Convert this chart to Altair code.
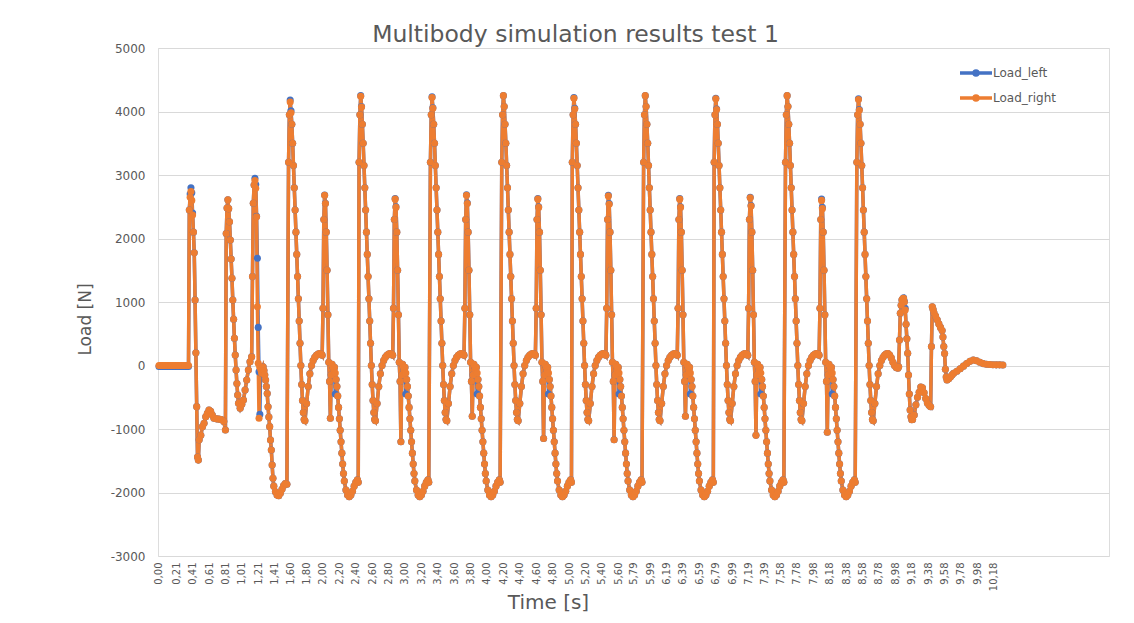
import altair as alt
import pandas as pd

FONT = "DejaVu Sans"
GREY = "#595959"

SERIES = ["Load_left", "Load_right"]
COLORS = ["#4472C4", "#ED7D31"]

X_TICKS = [0.00, 0.21, 0.41, 0.61, 0.81, 1.01, 1.21, 1.41, 1.60, 1.80, 2.00, 2.20, 2.40, 2.60,
           2.80, 3.00, 3.20, 3.40, 3.60, 3.80, 4.00, 4.20, 4.40, 4.60, 4.80, 5.00, 5.20, 5.40,
           5.60, 5.79, 5.99, 6.19, 6.39, 6.59, 6.79, 6.99, 7.19, 7.39, 7.58, 7.78, 7.98, 8.18,
           8.38, 8.58, 8.78, 8.98, 9.18, 9.38, 9.58, 9.78, 9.98, 10.18]
Y_TICKS = [-3000, -2000, -1000, 0, 1000, 2000, 3000, 4000, 5000]

# ---- start-up ----
T_START = [0.00, 0.02, 0.04, 0.06, 0.08, 0.10, 0.12, 0.14, 0.16, 0.18, 0.20, 0.22, 0.24, 0.26, 0.28, 0.30, 0.32, 0.34, 0.36,
           0.37, 0.38, 0.39, 0.40, 0.41, 0.42, 0.43, 0.44, 0.45, 0.46, 0.47, 0.48, 0.49,
           0.51, 0.53, 0.55, 0.57, 0.59, 0.61, 0.63, 0.65, 0.67,
           0.70, 0.73, 0.76, 0.79,
           0.81, 0.82, 0.83, 0.84, 0.85, 0.86, 0.87, 0.88, 0.89, 0.90, 0.91, 0.92, 0.93, 0.94, 0.95, 0.96, 0.97,
           0.99, 1.01, 1.03, 1.05, 1.07, 1.09, 1.11, 1.13,
           1.14, 1.15, 1.16, 1.17, 1.18, 1.19, 1.20, 1.21, 1.22, 1.23, 1.24, 1.25, 1.26, 1.27, 1.28, 1.29, 1.30, 1.31, 1.32, 1.33, 1.34, 1.35, 1.36, 1.37, 1.38, 1.39, 1.40,
           1.42, 1.44, 1.46, 1.48, 1.50, 1.52, 1.54, 1.56]
R_START = [0, 0, 0, 0, 0, 0, 0, 0, 0, 0, 0, 0, 0, 0, 0, 0, 0, 0, 0,
           2450, 2650, 2740, 2600, 2370, 2100, 1776, 1031, 202, -648, -1440, -1490, -1170,
           -1100, -963, -911, -806, -753, -700, -720, -780, -832,
           -840, -845, -850, -880,
           -1016, 2080, 2480, 2610, 2470, 2265, 1976, 1677, 1373, 1031, 727, 428, 165, -71, -284, -465, -596,
           -675, -610, -543, -386, -228, -71, 60, 139,
           1400, 2554, 2843, 2913, 2790, 2343, 926, 35, -832, -20, -60, -120, -60, -20, -80, -150, -230, -330, -440, -650, -810, -963, -1173, -1331, -1567, -1777, -1900,
           -1990, -2040, -2050, -2010, -1950, -1890, -1860, -1870]
L_START = [-15, -15, -15, -15, -15, -15, -15, -15, -15, -15, -15, -15, -15, -15, -15, -15, -15, -15, -15,
           2450, 2700, 2800, 2720, 2400, 2100, 1776, 1031, 202, -648, -1440, -1490, -1170,
           -1100, -963, -911, -806, -753, -700, -720, -780, -832,
           -840, -845, -850, -880,
           -1016, 2080, 2480, 2610, 2470, 2265, 1976, 1677, 1373, 1031, 727, 428, 165, -71, -284, -465, -596,
           -675, -610, -543, -386, -228, -71, 60, 139,
           1400, 2554, 2843, 2950, 2850, 2350, 1690, 600, -100, -770, -60, -120, -60, -20, -80, -150, -230, -330, -440, -650, -810, -963, -1173, -1331, -1567, -1777, -1900,
           -1990, -2040, -2050, -2010, -1950, -1890, -1860, -1870]

# ---- cycle 1 ----
T_C1 = [1.58, 1.59, 1.60, 1.61, 1.62, 1.63, 1.64, 1.65, 1.66, 1.67, 1.68, 1.69, 1.70, 1.71, 1.72, 1.73, 1.74, 1.75, 1.76, 1.77, 1.78,
        1.80, 1.82, 1.84, 1.86, 1.88, 1.90, 1.92, 1.94, 1.96, 1.98,
        1.99, 2.00, 2.01, 2.02, 2.03, 2.04, 2.05, 2.06, 2.07, 2.08, 2.09, 2.10, 2.11, 2.12, 2.13, 2.14, 2.15, 2.16, 2.17, 2.18, 2.19, 2.20, 2.21, 2.22, 2.23, 2.24, 2.25, 2.26,
        2.28, 2.30, 2.32, 2.34, 2.36, 2.38, 2.40, 2.42,
        2.43]
R_C1 = [3200, 3950, 4150, 3980, 3800, 3500, 3150, 2800, 2450, 2100, 1750, 1400, 1050, 700, 350, 0, -300, -550, -740, -850, -870,
        -600, -330, -130, 0, 80, 130, 160, 180, 190, 180,
        160, 900, 2300, 2680, 2550, 2100, 1500, 800, 50, -250, -830, -150, 20, -20, -80, -30, -120, -220, -330, -480, -660, -840, -1020, -1200, -1380, -1550, -1700, -1820,
        -1960, -2040, -2065, -2040, -1980, -1900, -1840, -1800,
        -1840]
L_C1 = [3200, 3950, 4180, 4010, 3800, 3500, 3150, 2800, 2450, 2100, 1750, 1400, 1050, 700, 350, 0, -300, -550, -740, -850, -870,
        -600, -330, -130, 0, 80, 130, 160, 180, 190, 180,
        160, 900, 2300, 2685, 2555, 2100, 1500, 800, 50, -250, -830, -150, 20, -20, -80, -30, -450, -220, -330, -480, -660, -840, -1020, -1200, -1380, -1550, -1700, -1820,
        -1960, -2040, -2065, -2040, -1980, -1900, -1840, -1800,
        -1840]

# ---- cycle 2 ----
T_C2 = [2.44, 2.45, 2.46, 2.47, 2.48, 2.49, 2.50, 2.51, 2.52, 2.53, 2.54, 2.55, 2.56, 2.57, 2.58, 2.59, 2.60, 2.61, 2.62, 2.63, 2.64,
        2.66, 2.68, 2.70, 2.72, 2.74, 2.76, 2.78, 2.80, 2.82, 2.84,
        2.85, 2.86, 2.87, 2.88, 2.89, 2.90, 2.91, 2.92, 2.93, 2.94, 2.95, 2.96, 2.97, 2.98, 2.99, 3.00, 3.01, 3.02, 3.03, 3.04, 3.05, 3.06, 3.07, 3.08, 3.09, 3.10, 3.11, 3.12,
        3.14, 3.16, 3.18, 3.20, 3.22, 3.24, 3.26, 3.28,
        3.29]
R_C2 = [3200, 3950, 4240, 4070, 3800, 3500, 3150, 2800, 2450, 2100, 1750, 1400, 1050, 700, 350, 0, -300, -550, -740, -850, -870,
        -600, -330, -130, 0, 80, 130, 160, 180, 190, 180,
        160, 900, 2300, 2620, 2490, 2100, 1500, 800, 50, -250, -1200, -150, 20, -20, -80, -30, -120, -220, -330, -480, -660, -840, -1020, -1200, -1380, -1550, -1700, -1820,
        -1960, -2040, -2065, -2040, -1980, -1900, -1840, -1800,
        -1840]
L_C2 = [3200, 3950, 4250, 4080, 3800, 3500, 3150, 2800, 2450, 2100, 1750, 1400, 1050, 700, 350, 0, -300, -550, -740, -850, -870,
        -600, -330, -130, 0, 80, 130, 160, 180, 190, 180,
        160, 900, 2300, 2630, 2500, 2100, 1500, 800, 50, -250, -1200, -150, 20, -20, -80, -30, -450, -220, -330, -480, -660, -840, -1020, -1200, -1380, -1550, -1700, -1820,
        -1960, -2040, -2065, -2040, -1980, -1900, -1840, -1800,
        -1840]

# ---- cycle 3 ----
T_C3 = [3.31, 3.32, 3.33, 3.34, 3.35, 3.36, 3.37, 3.38, 3.39, 3.40, 3.41, 3.42, 3.43, 3.44, 3.45, 3.46, 3.47, 3.48, 3.49, 3.50, 3.51,
        3.53, 3.55, 3.57, 3.59, 3.61, 3.63, 3.65, 3.67, 3.69, 3.71,
        3.72, 3.73, 3.74, 3.75, 3.76, 3.77, 3.78, 3.79, 3.80, 3.81, 3.82, 3.83, 3.84, 3.85, 3.86, 3.87, 3.88, 3.89, 3.90, 3.91, 3.92, 3.93, 3.94, 3.95, 3.96, 3.97, 3.98, 3.99,
        4.01, 4.03, 4.05, 4.07, 4.09, 4.11, 4.13, 4.15,
        4.16]
R_C3 = [3200, 3950, 4220, 4050, 3800, 3500, 3150, 2800, 2450, 2100, 1750, 1400, 1050, 700, 350, 0, -300, -550, -740, -850, -870,
        -600, -330, -130, 0, 80, 130, 160, 180, 190, 180,
        160, 900, 2300, 2680, 2550, 2100, 1500, 800, 50, -250, -800, -150, 20, -20, -80, -30, -120, -220, -330, -480, -660, -840, -1020, -1200, -1380, -1550, -1700, -1820,
        -1960, -2040, -2065, -2040, -1980, -1900, -1840, -1800,
        -1840]
L_C3 = [3200, 3950, 4230, 4060, 3800, 3500, 3150, 2800, 2450, 2100, 1750, 1400, 1050, 700, 350, 0, -300, -550, -740, -850, -870,
        -600, -330, -130, 0, 80, 130, 160, 180, 190, 180,
        160, 900, 2300, 2690, 2560, 2100, 1500, 800, 50, -250, -800, -150, 20, -20, -80, -30, -450, -220, -330, -480, -660, -840, -1020, -1200, -1380, -1550, -1700, -1820,
        -1960, -2040, -2065, -2040, -1980, -1900, -1840, -1800,
        -1840]

# ---- cycle 4 ----
T_C4 = [4.18, 4.19, 4.20, 4.21, 4.22, 4.23, 4.24, 4.25, 4.26, 4.27, 4.28, 4.29, 4.30, 4.31, 4.32, 4.33, 4.34, 4.35, 4.36, 4.37, 4.38,
        4.40, 4.42, 4.44, 4.46, 4.48, 4.50, 4.52, 4.54, 4.56, 4.58,
        4.59, 4.60, 4.61, 4.62, 4.63, 4.64, 4.65, 4.66, 4.67, 4.68, 4.69, 4.70, 4.71, 4.72, 4.73, 4.74, 4.75, 4.76, 4.77, 4.78, 4.79, 4.80, 4.81, 4.82, 4.83, 4.84, 4.85, 4.86,
        4.88, 4.90, 4.92, 4.94, 4.96, 4.98, 5.00, 5.02,
        5.03]
R_C4 = [3200, 3950, 4250, 4080, 3800, 3500, 3150, 2800, 2450, 2100, 1750, 1400, 1050, 700, 350, 0, -300, -550, -740, -850, -870,
        -600, -330, -130, 0, 80, 130, 160, 180, 190, 180,
        160, 900, 2300, 2620, 2490, 2100, 1500, 800, 50, -250, -1150, -150, 20, -20, -80, -30, -120, -220, -330, -480, -660, -840, -1020, -1200, -1380, -1550, -1700, -1820,
        -1960, -2040, -2065, -2040, -1980, -1900, -1840, -1800,
        -1840]
L_C4 = [3200, 3950, 4250, 4080, 3800, 3500, 3150, 2800, 2450, 2100, 1750, 1400, 1050, 700, 350, 0, -300, -550, -740, -850, -870,
        -600, -330, -130, 0, 80, 130, 160, 180, 190, 180,
        160, 900, 2300, 2630, 2500, 2100, 1500, 800, 50, -250, -1150, -150, 20, -20, -80, -30, -450, -220, -330, -480, -660, -840, -1020, -1200, -1380, -1550, -1700, -1820,
        -1960, -2040, -2065, -2040, -1980, -1900, -1840, -1800,
        -1840]

# ---- cycle 5 ----
T_C5 = [5.04, 5.05, 5.06, 5.07, 5.08, 5.09, 5.10, 5.11, 5.12, 5.13, 5.14, 5.15, 5.16, 5.17, 5.18, 5.19, 5.20, 5.21, 5.22, 5.23, 5.24,
        5.26, 5.28, 5.30, 5.32, 5.34, 5.36, 5.38, 5.40, 5.42, 5.44,
        5.45, 5.46, 5.47, 5.48, 5.49, 5.50, 5.51, 5.52, 5.53, 5.54, 5.55, 5.56, 5.57, 5.58, 5.59, 5.60, 5.61, 5.62, 5.63, 5.64, 5.65, 5.66, 5.67, 5.68, 5.69, 5.70, 5.71, 5.72,
        5.74, 5.76, 5.78, 5.80, 5.82, 5.84, 5.86, 5.88,
        5.89]
R_C5 = [3200, 3950, 4210, 4040, 3800, 3500, 3150, 2800, 2450, 2100, 1750, 1400, 1050, 700, 350, 0, -300, -550, -740, -850, -870,
        -600, -330, -130, 0, 80, 130, 160, 180, 190, 180,
        160, 900, 2300, 2670, 2540, 2100, 1500, 800, 50, -250, -1170, -150, 20, -20, -80, -30, -120, -220, -330, -480, -660, -840, -1020, -1200, -1380, -1550, -1700, -1820,
        -1960, -2040, -2065, -2040, -1980, -1900, -1840, -1800,
        -1840]
L_C5 = [3200, 3950, 4220, 4050, 3800, 3500, 3150, 2800, 2450, 2100, 1750, 1400, 1050, 700, 350, 0, -300, -550, -740, -850, -870,
        -600, -330, -130, 0, 80, 130, 160, 180, 190, 180,
        160, 900, 2300, 2680, 2550, 2100, 1500, 800, 50, -250, -1170, -150, 20, -20, -80, -30, -450, -220, -330, -480, -660, -840, -1020, -1200, -1380, -1550, -1700, -1820,
        -1960, -2040, -2065, -2040, -1980, -1900, -1840, -1800,
        -1840]

# ---- cycle 6 ----
T_C6 = [5.91, 5.92, 5.93, 5.94, 5.95, 5.96, 5.97, 5.98, 5.99, 6.00, 6.01, 6.02, 6.03, 6.04, 6.05, 6.06, 6.07, 6.08, 6.09, 6.10, 6.11,
        6.13, 6.15, 6.17, 6.19, 6.21, 6.23, 6.25, 6.27, 6.29, 6.31,
        6.32, 6.33, 6.34, 6.35, 6.36, 6.37, 6.38, 6.39, 6.40, 6.41, 6.42, 6.43, 6.44, 6.45, 6.46, 6.47, 6.48, 6.49, 6.50, 6.51, 6.52, 6.53, 6.54, 6.55, 6.56, 6.57, 6.58, 6.59,
        6.61, 6.63, 6.65, 6.67, 6.69, 6.71, 6.73, 6.75,
        6.76]
R_C6 = [3200, 3950, 4250, 4080, 3800, 3500, 3150, 2800, 2450, 2100, 1750, 1400, 1050, 700, 350, 0, -300, -550, -740, -850, -870,
        -600, -330, -130, 0, 80, 130, 160, 180, 190, 180,
        160, 900, 2300, 2620, 2490, 2100, 1500, 800, 50, -250, -800, -150, 20, -20, -80, -30, -120, -220, -330, -480, -660, -840, -1020, -1200, -1380, -1550, -1700, -1820,
        -1960, -2040, -2065, -2040, -1980, -1900, -1840, -1800,
        -1840]
L_C6 = [3200, 3950, 4250, 4080, 3800, 3500, 3150, 2800, 2450, 2100, 1750, 1400, 1050, 700, 350, 0, -300, -550, -740, -850, -870,
        -600, -330, -130, 0, 80, 130, 160, 180, 190, 180,
        160, 900, 2300, 2630, 2500, 2100, 1500, 800, 50, -250, -800, -150, 20, -20, -80, -30, -450, -220, -330, -480, -660, -840, -1020, -1200, -1380, -1550, -1700, -1820,
        -1960, -2040, -2065, -2040, -1980, -1900, -1840, -1800,
        -1840]

# ---- cycle 7 ----
T_C7 = [6.77, 6.78, 6.79, 6.80, 6.81, 6.82, 6.83, 6.84, 6.85, 6.86, 6.87, 6.88, 6.89, 6.90, 6.91, 6.92, 6.93, 6.94, 6.95, 6.96, 6.97,
        6.99, 7.01, 7.03, 7.05, 7.07, 7.09, 7.11, 7.13, 7.15, 7.17,
        7.18, 7.19, 7.20, 7.21, 7.22, 7.23, 7.24, 7.25, 7.26, 7.27, 7.28, 7.29, 7.30, 7.31, 7.32, 7.33, 7.34, 7.35, 7.36, 7.37, 7.38, 7.39, 7.40, 7.41, 7.42, 7.43, 7.44, 7.45,
        7.47, 7.49, 7.51, 7.53, 7.55, 7.57, 7.59, 7.61,
        7.62]
R_C7 = [3200, 3950, 4200, 4030, 3800, 3500, 3150, 2800, 2450, 2100, 1750, 1400, 1050, 700, 350, 0, -300, -550, -740, -850, -870,
        -600, -330, -130, 0, 80, 130, 160, 180, 190, 180,
        160, 900, 2300, 2640, 2510, 2100, 1500, 800, 50, -250, -1100, -150, 20, -20, -80, -30, -120, -220, -330, -480, -660, -840, -1020, -1200, -1380, -1550, -1700, -1820,
        -1960, -2040, -2065, -2040, -1980, -1900, -1840, -1800,
        -1840]
L_C7 = [3200, 3950, 4210, 4040, 3800, 3500, 3150, 2800, 2450, 2100, 1750, 1400, 1050, 700, 350, 0, -300, -550, -740, -850, -870,
        -600, -330, -130, 0, 80, 130, 160, 180, 190, 180,
        160, 900, 2300, 2650, 2520, 2100, 1500, 800, 50, -250, -1100, -150, 20, -20, -80, -30, -450, -220, -330, -480, -660, -840, -1020, -1200, -1380, -1550, -1700, -1820,
        -1960, -2040, -2065, -2040, -1980, -1900, -1840, -1800,
        -1840]

# ---- cycle 8 ----
T_C8 = [7.64, 7.65, 7.66, 7.67, 7.68, 7.69, 7.70, 7.71, 7.72, 7.73, 7.74, 7.75, 7.76, 7.77, 7.78, 7.79, 7.80, 7.81, 7.82, 7.83, 7.84,
        7.86, 7.88, 7.90, 7.92, 7.94, 7.96, 7.98, 8.00, 8.02, 8.04,
        8.05, 8.06, 8.07, 8.08, 8.09, 8.10, 8.11, 8.12, 8.13, 8.14, 8.15, 8.16, 8.17, 8.18, 8.19, 8.20, 8.21, 8.22, 8.23, 8.24, 8.25, 8.26, 8.27, 8.28, 8.29, 8.30, 8.31, 8.32,
        8.34, 8.36, 8.38, 8.40, 8.42, 8.44, 8.46, 8.48,
        8.49]
R_C8 = [3200, 3950, 4250, 4080, 3800, 3500, 3150, 2800, 2450, 2100, 1750, 1400, 1050, 700, 350, 0, -300, -550, -740, -850, -870,
        -600, -330, -130, 0, 80, 130, 160, 180, 190, 180,
        160, 900, 2300, 2600, 2470, 2100, 1500, 800, 50, -250, -1050, -150, 20, -20, -80, -30, -120, -220, -330, -480, -660, -840, -1020, -1200, -1380, -1550, -1700, -1820,
        -1960, -2040, -2065, -2040, -1980, -1900, -1840, -1800,
        -1840]
L_C8 = [3200, 3950, 4250, 4080, 3800, 3500, 3150, 2800, 2450, 2100, 1750, 1400, 1050, 700, 350, 0, -300, -550, -740, -850, -870,
        -600, -330, -130, 0, 80, 130, 160, 180, 190, 180,
        160, 900, 2300, 2620, 2490, 2100, 1500, 800, 50, -250, -1050, -150, 20, -20, -80, -30, -450, -220, -330, -480, -660, -840, -1020, -1200, -1380, -1550, -1700, -1820,
        -1960, -2040, -2065, -2040, -1980, -1900, -1840, -1800,
        -1840]

# ---- cycle 9 (last big peak) ----
T_C9 = [8.51, 8.52, 8.53, 8.54, 8.55, 8.56, 8.57, 8.58, 8.59, 8.60, 8.61, 8.62, 8.63, 8.64, 8.65, 8.66, 8.67, 8.68, 8.69, 8.70, 8.71]
R_C9 = [3200, 3950, 4190, 4020, 3800, 3500, 3150, 2800, 2450, 2100, 1750, 1400, 1050, 700, 350, 0, -300, -550, -740, -850, -870]
L_C9 = [3200, 3950, 4200, 4030, 3800, 3500, 3150, 2800, 2450, 2100, 1750, 1400, 1050, 700, 350, 0, -300, -550, -740, -850, -870]

# ---- run-out ----
T_TAIL = [8.73, 8.75, 8.77, 8.79, 8.81, 8.83, 8.85, 8.87, 8.89, 8.91, 8.93, 8.95, 8.97, 8.99, 9.01,
          9.02, 9.03, 9.04, 9.05, 9.06, 9.07, 9.08, 9.09, 9.10, 9.11, 9.12, 9.13, 9.14, 9.15, 9.16, 9.17, 9.18, 9.19,
          9.21, 9.23, 9.25, 9.27, 9.29, 9.31, 9.33, 9.35, 9.37, 9.39, 9.41,
          9.42, 9.43, 9.44, 9.45,
          9.47, 9.49, 9.51, 9.53, 9.55,
          9.56, 9.57, 9.58, 9.59, 9.60, 9.61,
          9.63, 9.65, 9.67, 9.69,
          9.73, 9.77, 9.81, 9.85, 9.89, 9.93, 9.97, 10.01, 10.05, 10.09, 10.13, 10.17, 10.21, 10.25, 10.29]
R_TAIL = [-600, -330, -130, 0, 80, 130, 165, 185, 190, 165, 120, 50, 0, -30, -44,
          -20, 400, 822, 950, 1031, 1050, 1058, 1000, 874, 650, 420, 192, -150, -450, -700, -806, -853, -850,
          -780, -620, -500, -420, -340, -350, -430, -520, -590, -625, -650,
          300, 926, 880, 830,
          780, 720, 655, 600, 550,
          450, 300, 190, -60, -180, -228,
          -210, -180, -150, -123,
          -90, -50, -10, 30, 65, 87, 75, 50, 30, 20, 15, 12, 10, 10, 8]
L_TAIL = [-600, -330, -130, 0, 80, 130, 165, 185, 190, 165, 120, 50, 0, -30, -44,
          -20, 400, 822, 950, 1031, 1050, 1065, 1010, 900, 650, 420, 192, -150, -450, -700, -806, -853, -850,
          -780, -620, -500, -420, -340, -350, -430, -520, -590, -625, -650,
          300, 926, 880, 830,
          780, 720, 655, 600, 550,
          450, 300, 190, -60, -180, -228,
          -210, -180, -150, -123,
          -90, -50, -10, 30, 65, 87, 75, 50, 30, 20, 15, 12, 10, 10, 8]

TIME = T_START + T_C1 + T_C2 + T_C3 + T_C4 + T_C5 + T_C6 + T_C7 + T_C8 + T_C9 + T_TAIL
LOAD_RIGHT = R_START + R_C1 + R_C2 + R_C3 + R_C4 + R_C5 + R_C6 + R_C7 + R_C8 + R_C9 + R_TAIL
LOAD_LEFT = L_START + L_C1 + L_C2 + L_C3 + L_C4 + L_C5 + L_C6 + L_C7 + L_C8 + L_C9 + L_TAIL
assert len(TIME) == len(LOAD_RIGHT) == len(LOAD_LEFT), (len(TIME), len(LOAD_RIGHT), len(LOAD_LEFT))

rows = [{"t": t, "load": v, "series": SERIES[0]} for t, v in zip(TIME, LOAD_LEFT)]
rows += [{"t": t, "load": v, "series": SERIES[1]} for t, v in zip(TIME, LOAD_RIGHT)]
df = pd.DataFrame(rows)

color_scale = alt.Scale(domain=SERIES, range=COLORS)
LEGEND_PATH = "M-1.6,0L1.6,0M0.2,0A0.2,0.2,0,1,1,-0.2,0A0.2,0.2,0,1,1,0.2,0"

x_enc = alt.X(
    "t:Q",
    scale=alt.Scale(domain=[-0.012, 11.585], nice=False, zero=False),
    axis=alt.Axis(
        values=X_TICKS,
        labelExpr="replace(format(datum.value, '.2f'), '.', ',')",
        labelAngle=270, labelFontSize=10, labelColor=GREY, labelFont=FONT,
        labelOverlap=False, labelFlush=False, labelPadding=6,
        grid=False, domain=False, ticks=False,
        title="Time [s]", titleFontSize=20, titleColor=GREY, titleFont=FONT,
        titleFontWeight="normal", titleX=390, titleY=52, titleAlign="center",
        titleBaseline="alphabetic",
    ),
)
y_enc = alt.Y(
    "load:Q",
    scale=alt.Scale(domain=[-3000, 5000], nice=False),
    axis=alt.Axis(
        values=Y_TICKS, labelExpr="datum.value + ''",
        labelFontSize=12, labelColor=GREY, labelFont=FONT, labelPadding=13,
        ticks=False, domain=False, grid=True, gridColor="#d9d9d9", gridWidth=1,
        title="Load [N]", titleFontSize=17, titleColor=GREY, titleFont=FONT,
        titleFontWeight="normal", titleAngle=270, titleX=-73, titleY=271,
        titleAlign="center", titleBaseline="middle",
    ),
)

lines = alt.Chart(df).mark_line(strokeWidth=3.5).encode(
    x=x_enc, y=y_enc,
    color=alt.Color(
        "series:N", scale=color_scale,
        legend=alt.Legend(
            title=None, orient="none", legendX=806, legendY=13,
            symbolType=LEGEND_PATH, symbolSize=400, symbolStrokeWidth=3.5,
            labelFontSize=12, labelColor=GREY, labelFont=FONT, labelOffset=5,
            rowPadding=4, padding=0,
        ),
    ),
)
points = alt.Chart(df).mark_circle(size=50, opacity=1).encode(
    x=x_enc, y=y_enc,
    color=alt.Color("series:N", scale=color_scale, legend=None),
)

chart = alt.layer(lines, points).properties(
    width=951, height=508,
    title=alt.TitleParams(
        "Multibody simulation results test 1", fontSize=23.5, font=FONT, color=GREY,
        fontWeight="normal", anchor="middle", frame="group", dx=-58, dy=27, offset=4,
        baseline="alphabetic",
    ),
    padding={"left": 150, "top": 40, "right": 17, "bottom": 59},
    autosize=alt.AutoSizeParams(type="none"),
).configure_view(stroke=None).configure(background="white")

chart.save("out.html", embed_options={"renderer": "svg", "actions": False})
